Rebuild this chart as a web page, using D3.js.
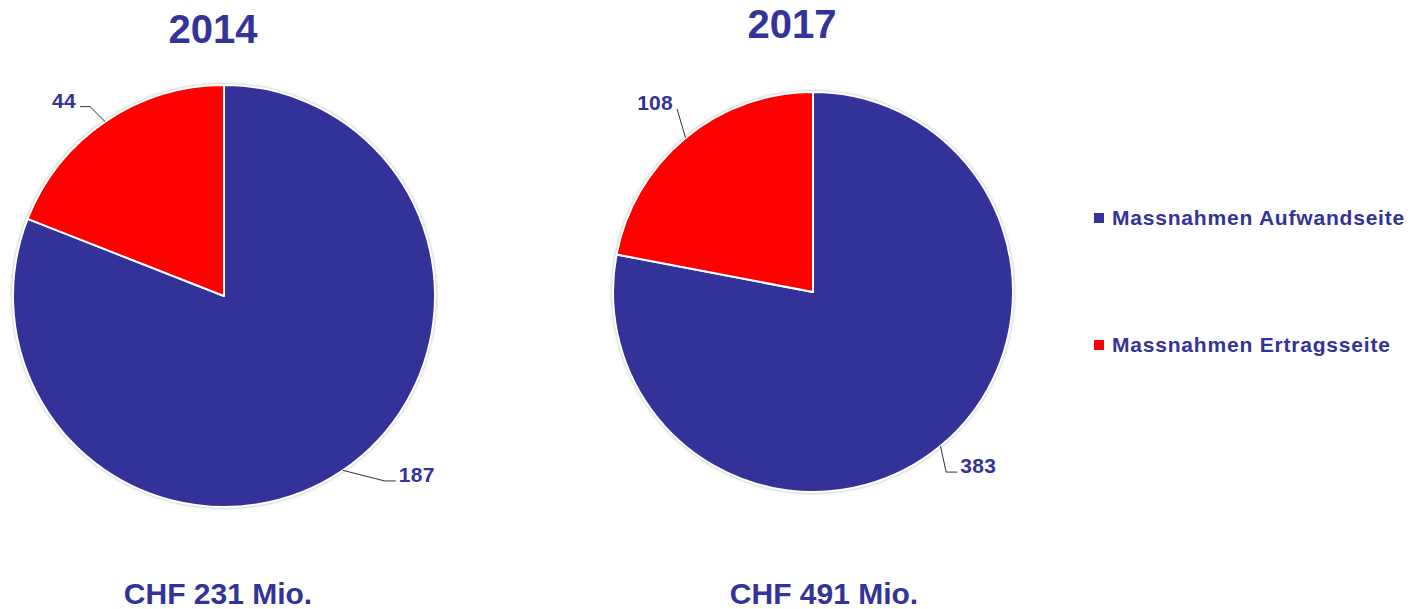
<!DOCTYPE html>
<html>
<head>
<meta charset="utf-8">
<script src="https://cdn.jsdelivr.net/npm/d3@7"></script>
<style>
  body { margin: 0; background: #fff; }
  text { font-family: "Liberation Sans", Arial, sans-serif; font-weight: bold; fill: #333399; }
</style>
</head>
<body>
<div id="chart"></div>
<script>
// Daten aus der Grafik
const categories = ["Massnahmen Aufwandseite", "Massnahmen Ertragsseite"];
const years = ["2014", "2017"];
const values2014 = [187, 44];
const values2017 = [383, 108];
const totals = ["CHF 231 Mio.", "CHF 491 Mio."];
const colors = ["#333399", "#ff0000"];

const width = 1414, height = 609;

const svg = d3.select('#chart')
    .append('svg')
    .attr('width', width)
    .attr('height', height);

// leichter Schatten um die Kreise
const defs = svg.append('defs');
const shadow = defs.append('filter').attr('id', 'shadow')
    .attr('x', '-5%').attr('y', '-5%').attr('width', '110%').attr('height', '110%');
shadow.append('feDropShadow')
    .attr('dx', 0).attr('dy', 0).attr('stdDeviation', 1.5)
    .attr('flood-color', '#999').attr('flood-opacity', 0.8);

// Layout pro Kreis: Mittelpunkt, Radius, Titel- und Summenposition, Label-Verschiebungen
const layout = [
    { cx: 224, cy: 296, r: 211, titleX: 213, titleY: 43, totalX: 218,
      labels: [ { dA: -6.7, dr: 34, h: 11 }, { dA: -1, dr: 21, h: 10 } ] },
    { cx: 813, cy: 292, r: 200, titleX: 792, titleY: 38, totalX: 824,
      labels: [ { dA: 3.1, dr: 24, h: 11 }, { dA: 3, dr: 28, h: 0 } ] }
];

const series = [values2014, values2017];

const pie = d3.pie().sort(null).value(d => d);

function polar(cx, cy, r, a) {
    return [cx + r * Math.sin(a), cy - r * Math.cos(a)];
}

series.forEach((vals, i) => {
    const L = layout[i];
    const g = svg.append('g');

    const arcs = pie(vals);
    const arc = d3.arc().innerRadius(0).outerRadius(L.r);

    g.append('g')
        .attr('transform', `translate(${L.cx},${L.cy})`)
        .attr('filter', 'url(#shadow)')
        .selectAll('path')
        .data(arcs)
        .enter()
        .append('path')
        .attr('d', arc)
        .attr('fill', (d, j) => colors[j])
        .attr('stroke', '#fff')
        .attr('stroke-width', 2)
        .attr('stroke-linejoin', 'round');

    // Datenbeschriftungen mit Führungslinien
    arcs.forEach((d, j) => {
        const lab = L.labels[j];
        const mid = (d.startAngle + d.endAngle) / 2;
        const p0 = polar(L.cx, L.cy, L.r, mid);
        const p1 = polar(L.cx, L.cy, L.r + lab.dr, mid + lab.dA * Math.PI / 180);
        const right = Math.sin(mid) > 0;
        const p2 = [p1[0] + (right ? lab.h : -lab.h), p1[1]];

        g.append('path')
            .attr('d', d3.line()([p0, p1, p2]))
            .attr('fill', 'none')
            .attr('stroke', '#333')
            .attr('stroke-width', 1);

        g.append('text')
            .attr('x', p2[0] + (right ? 3 : -4))
            .attr('y', p2[1] + 1)
            .attr('text-anchor', right ? 'start' : 'end')
            .style('font-size', '21px')
            .style('letter-spacing', '0.3px')
            .text(d.data);
    });

    g.append('text')
        .attr('x', L.titleX)
        .attr('y', L.titleY)
        .attr('text-anchor', 'middle')
        .style('font-size', '40px')
        .text(years[i]);

    g.append('text')
        .attr('x', L.totalX)
        .attr('y', 604)
        .attr('text-anchor', 'middle')
        .style('font-size', '30px')
        .text(totals[i]);
});

// Legende
const legendY = d3.scalePoint().domain(categories).range([218, 345]);

const legend = svg.append('g')
    .selectAll('g')
    .data(categories)
    .enter()
    .append('g')
    .attr('transform', d => `translate(1094,${legendY(d)})`);

legend.append('rect')
    .attr('x', 0).attr('y', -5)
    .attr('width', 10).attr('height', 10)
    .attr('fill', (d, j) => colors[j]);

legend.append('text')
    .attr('x', 18)
    .attr('y', 7)
    .style('font-size', '21px')
    .style('letter-spacing', '0.8px')
    .text(d => d);
</script>
</body>
</html>
